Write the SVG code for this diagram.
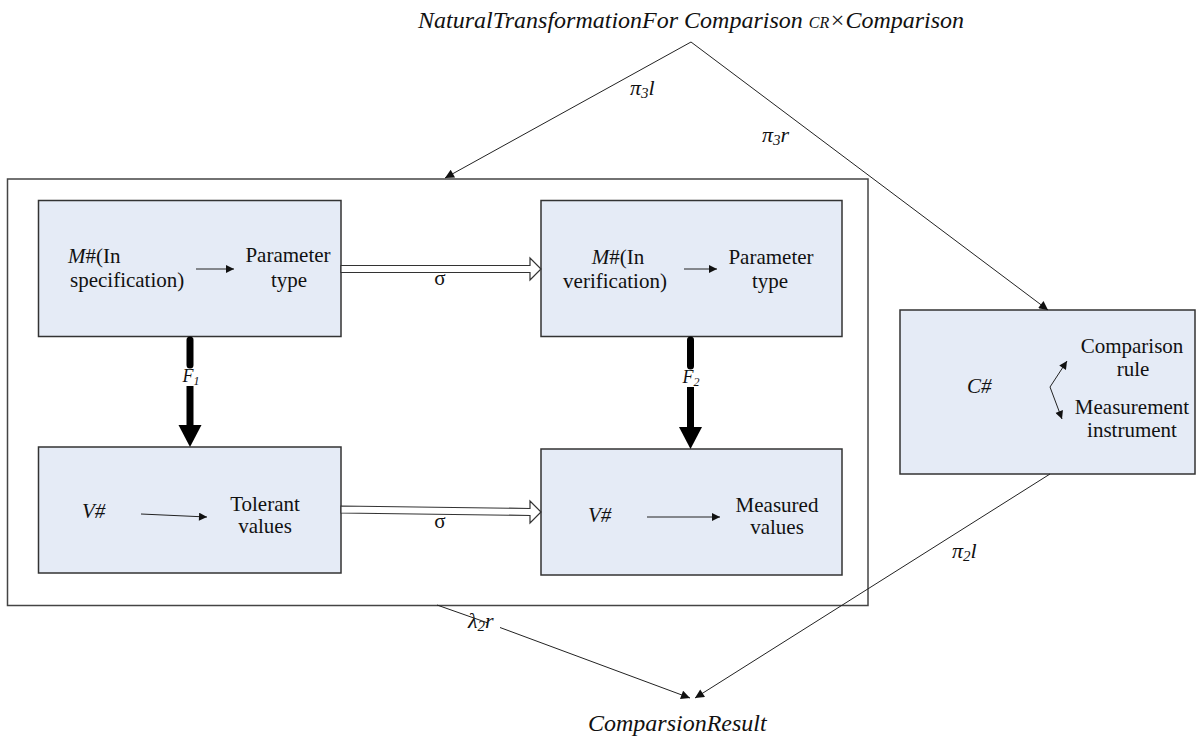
<svg xmlns="http://www.w3.org/2000/svg" width="1198" height="740" viewBox="0 0 1198 740">
<defs>
<style>
text{font-family:'Liberation Serif','Times New Roman','DejaVu Serif',serif;fill:#111}
.t{font-size:21px}
.c{text-anchor:middle}
.it{font-style:italic}
.box{fill:#E5EBF6;stroke:#333;stroke-width:1.5}
.ln{stroke:#222;stroke-width:1;fill:none}
.hol{fill:#fff;stroke:#333;stroke-width:1.2}
</style>
<marker id="ah" viewBox="0 0 10 10" refX="10" refY="5" markerWidth="12" markerHeight="9" markerUnits="userSpaceOnUse" orient="auto"><path d="M0,0 L10,5 L0,10 z" fill="#111"/></marker>
<marker id="as" viewBox="0 0 10 10" refX="10" refY="5" markerWidth="11" markerHeight="8" markerUnits="userSpaceOnUse" orient="auto"><path d="M0,0 L10,5 L0,10 z" fill="#111"/></marker>
</defs>
<rect width="1198" height="740" fill="#fff"/>

<g id="outer">
<rect x="7.5" y="179" width="860.5" height="426.5" fill="none" stroke="#444" stroke-width="1.5"/>
</g>

<g id="top-label">
<text class="it" x="418" y="28" font-size="24">NaturalTransformationFor Comparison <tspan font-size="16">CR</tspan>×Comparison</text>
</g>

<g id="boxA">
<rect class="box" x="38.5" y="200.5" width="302.5" height="136"/>
<text class="t" x="68" y="263"><tspan font-style="italic">M</tspan>#(In</text>
<text class="t" x="70" y="287">specification)</text>
<line class="ln" x1="196" y1="269" x2="234" y2="269" marker-end="url(#as)"/>
<text class="t c" x="288" y="262">Parameter</text>
<text class="t c" x="289" y="287">type</text>
</g>

<g id="boxB">
<rect class="box" x="541" y="200.5" width="301" height="136"/>
<text class="t c" x="618" y="264"><tspan font-style="italic">M</tspan>#(In</text>
<text class="t c" x="615" y="288">verification)</text>
<line class="ln" x1="684" y1="269" x2="717" y2="269" marker-end="url(#as)"/>
<text class="t c" x="771" y="264">Parameter</text>
<text class="t c" x="770" y="288">type</text>
</g>

<g id="boxC">
<rect class="box" x="38.5" y="447" width="302.5" height="126"/>
<text class="it" x="82" y="518" font-size="21">V#</text>
<line class="ln" x1="141" y1="514" x2="207" y2="517" marker-end="url(#as)"/>
<text class="t c" x="265" y="511">Tolerant</text>
<text class="t c" x="265" y="533">values</text>
</g>

<g id="boxD">
<rect class="box" x="541" y="449" width="301" height="126"/>
<text class="it" x="588" y="522" font-size="21">V#</text>
<line class="ln" x1="647" y1="517" x2="720" y2="517" marker-end="url(#as)"/>
<text class="t c" x="777" y="512">Measured</text>
<text class="t c" x="777" y="534">values</text>
</g>

<g id="boxE">
<rect class="box" x="900" y="310" width="295" height="164"/>
<text class="it" x="967" y="393" font-size="21">C#</text>
<polyline class="ln" points="1050,387 1067,361" marker-end="url(#as)"/>
<polyline class="ln" points="1050,387 1062,419" marker-end="url(#as)"/>
<text class="t c" x="1132" y="353">Comparison</text>
<text class="t c" x="1133" y="376">rule</text>
<text class="t c" x="1132" y="414">Measurement</text>
<text class="t c" x="1132" y="437">instrument</text>
</g>

<g id="bottom-label">
<text class="it" x="588" y="731" font-size="24">ComparsionResult</text>
</g>

<g id="connectors">
<polygon class="hol" points="341,265.5 530,265.5 530,258 541,269 530,280 530,272.5 341,272.5"/>
<text class="t c" x="440" y="285">σ</text>
<polygon class="hol" points="341,506 530,508.5 530,501 541,512 530,523 530,515.5 341,513"/>
<text class="t c" x="440" y="528">σ</text>

<line x1="190" y1="340" x2="190" y2="365" stroke="#000" stroke-width="7" stroke-linecap="round"/>
<line x1="190" y1="386" x2="190" y2="426" stroke="#000" stroke-width="7"/>
<polygon points="178.5,425 201.5,425 190,447" fill="#000"/>
<text class="it c" x="191" y="382" font-size="18">F<tspan font-size="12" dy="3">1</tspan></text>

<line x1="690.5" y1="340" x2="690.5" y2="366" stroke="#000" stroke-width="7" stroke-linecap="round"/>
<line x1="690.5" y1="387" x2="690.5" y2="428" stroke="#000" stroke-width="7"/>
<polygon points="679,427 702,427 690.5,449" fill="#000"/>
<text class="it c" x="691" y="383" font-size="18">F<tspan font-size="12" dy="3">2</tspan></text>

<polyline class="ln" points="691,42 445,178" marker-end="url(#ah)"/>
<polyline class="ln" points="691,42 1048,310" marker-end="url(#ah)"/>
<text class="it" x="630" y="95" font-size="22">π<tspan font-size="15" dy="3">3</tspan><tspan dy="-3">l</tspan></text>
<text class="it" x="762" y="142" font-size="22">π<tspan font-size="15" dy="3">3</tspan><tspan dy="-3">r</tspan></text>

<line class="ln" x1="437" y1="605" x2="488" y2="623"/>
<polyline class="ln" points="500,627.5 690,698" marker-end="url(#ah)"/>
<text class="it" x="468" y="628" font-size="22">λ<tspan font-size="15" dy="3">2</tspan><tspan dy="-3">r</tspan></text>

<polyline class="ln" points="1050,474 695,698" marker-end="url(#ah)"/>
<text class="it" x="952" y="558" font-size="22">π<tspan font-size="15" dy="3">2</tspan><tspan dy="-3">l</tspan></text>
</g>
</svg>
